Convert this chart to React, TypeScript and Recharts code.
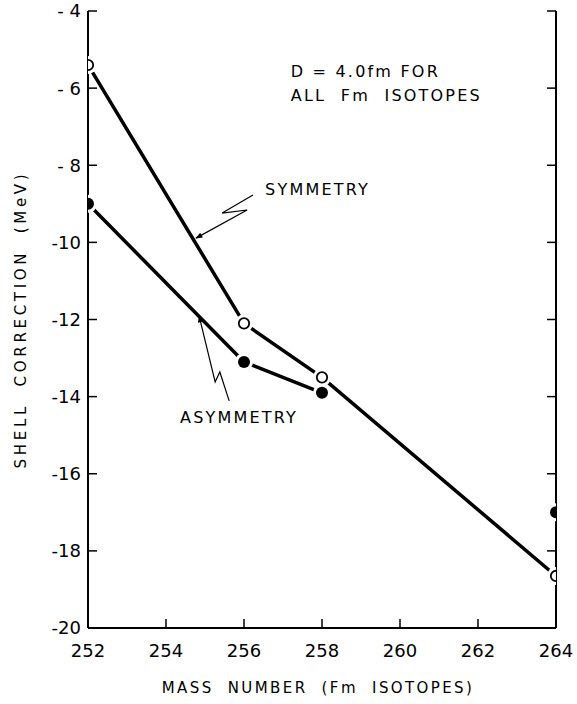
import { ComposedChart, Line, Scatter, XAxis, YAxis, ReferenceDot, Label } from "recharts"

const FONT = "'DejaVu Sans', sans-serif"

// Fm isotopes and their shell corrections (MeV)
const massNumbers = [252, 256, 258, 264]
const symmetryShell = [-5.4, -12.1, -13.5, -18.65]
const asymmetryShell = [-9.0, -13.1, -13.9, -17.0]
// the asymmetry curve stops at 258, the 264 point stands on its own
const asymmetryJoined = [true, true, true, false]

const xTicks = [252, 254, 256, 258, 260, 262, 264]
const yTicks = [-20, -18, -16, -14, -12, -10, -8, -6, -4]

// pointer arrows (tail -> zigzag -> tip), in data units
const symArrowX = [256.23, 255.44, 256.08, 254.77]
const symArrowY = [-8.77, -9.24, -9.16, -9.89]
const asymArrowX = [255.62, 255.38, 255.26, 254.85]
const asymArrowY = [-14.11, -13.36, -13.62, -11.91]

const notes = [
  { x: 257.2, y: -5.56, text: "D = 4.0fm FOR" },
  { x: 257.2, y: -6.2, text: "ALL  Fm  ISOTOPES" },
  { x: 256.54, y: -8.62, text: "SYMMETRY" },
  { x: 254.36, y: -14.55, text: "ASYMMETRY" },
]

const chartData = massNumbers.map((m, i) => ({
  mass: m,
  symmetry: symmetryShell[i],
  asymmetryLine: asymmetryJoined[i] ? asymmetryShell[i] : null,
  asymmetry: asymmetryShell[i],
}))

const symArrow = symArrowX.map((x, i) => ({ mass: x, v: symArrowY[i] }))
const asymArrow = asymArrowX.map((x, i) => ({ mass: x, v: asymArrowY[i] }))

const openDot = (p: any) => (
  <g>
    <circle cx={p.cx} cy={p.cy} r={9} fill="#fff" />
    <circle cx={p.cx} cy={p.cy} r={5.2} fill="#fff" stroke="#000" strokeWidth={1.8} />
  </g>
)

const filledDot = (p: any) => (
  <g>
    <circle cx={p.cx} cy={p.cy} r={9} fill="#fff" />
    <circle cx={p.cx} cy={p.cy} r={6} fill="#000" />
  </g>
)

const yTickText = (v: number) => (v > -10 ? `- ${-v}` : `${v}`)

const XTitle = ({ viewBox }: any) => (
  <text
    x={viewBox.x + viewBox.width / 2 - 4}
    y={viewBox.y + viewBox.height + 15}
    textAnchor="middle"
    fontFamily={FONT}
    fontSize={15}
    letterSpacing={2.4}
    wordSpacing={7}
    fill="#000"
  >
    MASS NUMBER (Fm ISOTOPES)
  </text>
)

const YTitle = ({ viewBox }: any) => {
  const cx = viewBox.x - 7
  const cy = viewBox.y + viewBox.height / 2
  return (
    <text
      x={cx}
      y={cy}
      transform={`rotate(-90, ${cx}, ${cy})`}
      textAnchor="middle"
      dominantBaseline="central"
      fontFamily={FONT}
      fontSize={15}
      letterSpacing={3.7}
      wordSpacing={8}
      fill="#000"
    >
      SHELL CORRECTION (MeV)
    </text>
  )
}

const tickStyle = { fontFamily: FONT, fontSize: 18, fill: "#000" }
const tickLineStyle = { stroke: "#000", strokeWidth: 1.5 }

export default function App() {
  return (
    <div style={{ position: "absolute", left: 0, top: 0, background: "#fff" }}>
      <svg width={0} height={0} style={{ position: "absolute" }}>
        <defs>
          <marker
            id="arrowHead"
            viewBox="0 0 10 10"
            refX="9"
            refY="5"
            markerWidth="8"
            markerHeight="7"
            orient="auto"
            markerUnits="userSpaceOnUse"
          >
            <path d="M0,1 L10,5 L0,9 z" fill="#000" />
          </marker>
        </defs>
      </svg>
      <ComposedChart
        width={577}
        height={704}
        data={chartData}
        margin={{ top: 11, right: 20, bottom: 26, left: 28 }}
      >
        <XAxis
          dataKey="mass"
          type="number"
          domain={[252, 264]}
          ticks={xTicks}
          allowDataOverflow
          height={50}
          axisLine={{ stroke: "#000", strokeWidth: 2 }}
          tickLine={tickLineStyle}
          tickSize={-9}
          tickMargin={25}
          tick={tickStyle}
        >
          <Label content={XTitle} />
        </XAxis>
        <XAxis
          xAxisId="top"
          orientation="top"
          type="number"
          domain={[252, 264]}
          ticks={xTicks}
          allowDataOverflow
          height={0}
          axisLine={{ stroke: "#000", strokeWidth: 2 }}
          tickLine={tickLineStyle}
          tickSize={-9}
          tickFormatter={() => ""}
        />
        <YAxis
          type="number"
          domain={[-20, -4]}
          ticks={yTicks}
          allowDataOverflow
          width={60}
          axisLine={{ stroke: "#000", strokeWidth: 2 }}
          tickLine={tickLineStyle}
          tickSize={-9}
          tickMargin={16}
          tick={tickStyle}
          tickFormatter={yTickText}
        >
          <Label content={YTitle} />
        </YAxis>
        <YAxis
          yAxisId="right"
          orientation="right"
          type="number"
          domain={[-20, -4]}
          ticks={yTicks}
          allowDataOverflow
          width={1}
          axisLine={{ stroke: "#000", strokeWidth: 2 }}
          tickLine={tickLineStyle}
          tickSize={-9}
          tickFormatter={() => ""}
        />

        <Line
          data={symArrow}
          dataKey="v"
          stroke="#000"
          strokeWidth={1.2}
          dot={false}
          activeDot={false}
          markerEnd="url(#arrowHead)"
          isAnimationActive={false}
        />
        <Line
          data={asymArrow}
          dataKey="v"
          stroke="#000"
          strokeWidth={1.2}
          dot={false}
          activeDot={false}
          markerEnd="url(#arrowHead)"
          isAnimationActive={false}
        />

        <Line
          dataKey="asymmetryLine"
          stroke="#000"
          strokeWidth={3.5}
          dot={false}
          activeDot={false}
          isAnimationActive={false}
        />
        <Line
          dataKey="symmetry"
          stroke="#000"
          strokeWidth={3.5}
          dot={false}
          activeDot={false}
          isAnimationActive={false}
        />
        <Scatter dataKey="asymmetry" shape={filledDot} isAnimationActive={false} />
        <Scatter dataKey="symmetry" shape={openDot} isAnimationActive={false} />

        {notes.map((n) => (
          <ReferenceDot
            key={n.text}
            x={n.x}
            y={n.y}
            r={0}
            shape={(p: any) => (
              <text
                x={p.cx}
                y={p.cy}
                dominantBaseline="central"
                fontFamily={FONT}
                fontSize={16}
                letterSpacing={2.2}
                fill="#000"
                style={{ whiteSpace: "pre" }}
              >
                {n.text}
              </text>
            )}
          />
        ))}
      </ComposedChart>
    </div>
  )
}
